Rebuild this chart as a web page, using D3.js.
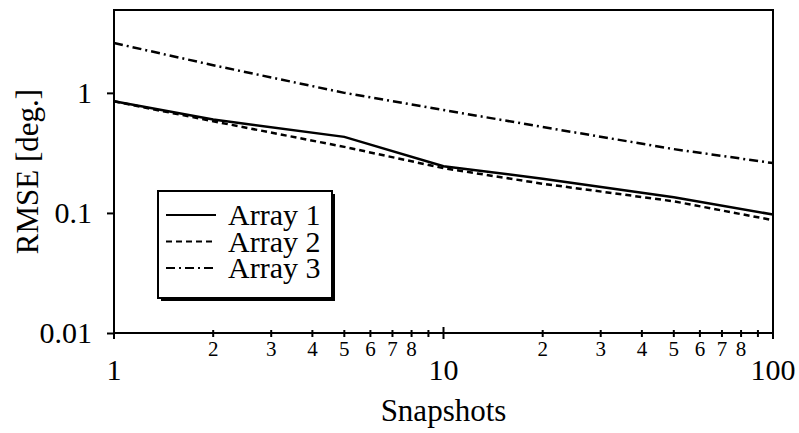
<!DOCTYPE html>
<html>
<head>
<meta charset="utf-8">
<script src="https://cdnjs.cloudflare.com/ajax/libs/d3/7.8.5/d3.min.js"></script>
<style>
  body { margin: 0; background: #fff; }
</style>
</head>
<body>
<div class="canvas"></div>
<script>
// data
const snapshots = [1, 2, 5, 10, 20, 50, 100];
const array1 = [0.85, 0.6, 0.43, 0.245, 0.193, 0.135, 0.097];
const array2 = [0.85, 0.58, 0.355, 0.236, 0.175, 0.125, 0.087];
const array3 = [2.6, 1.7, 1.0, 0.72, 0.52, 0.34, 0.26];
const seriesNames = ['Array 1', 'Array 2', 'Array 3'];

const xMajor = [1, 10, 100];
const xMajorLabels = ['1', '10', '100'];
const xMinor = [2, 3, 4, 5, 6, 7, 8, 9, 20, 30, 40, 50, 60, 70, 80, 90];
const xMinorLabels = ['2', '3', '4', '5', '6', '7', '8', '', '2', '3', '4', '5', '6', '7', '8', ''];
const yTicks = [0.01, 0.1, 1];
const yTickLabels = ['0.01', '0.1', '1'];

const FONT = '"Liberation Serif"';

const width = 799, height = 433;
const margin = {top: 10, right: 26, bottom: 100, left: 114};
const graphWidth = width - margin.left - margin.right;
const graphHeight = height - margin.top - margin.bottom;

const svg = d3.select('.canvas')
    .append('svg')
        .attr('width', width)
        .attr('height', height)
        .style('font-family', FONT);

const graph = svg.append('g')
    .attr('transform', `translate(${margin.left}, ${margin.top})`);

const x = d3.scaleLog().domain([1, 100]).range([0, graphWidth]);
const y = d3.scaleLog().domain([0.01, 4.9]).range([graphHeight, 0]);

// frame
graph.append('rect')
    .attr('width', graphWidth)
    .attr('height', graphHeight)
    .attr('fill', 'none')
    .attr('stroke', 'black')
    .attr('stroke-width', 2);

// x axis ticks (crossing the axis)
const xAxisGroup = graph.append('g')
    .attr('transform', `translate(0, ${graphHeight})`);

xAxisGroup.selectAll('line.major')
    .data(xMajor)
    .enter().append('line')
        .attr('class', 'major')
        .attr('x1', d => x(d)).attr('x2', d => x(d))
        .attr('y1', -6).attr('y2', 6)
        .attr('stroke', 'black').attr('stroke-width', 2);

xAxisGroup.selectAll('line.minor')
    .data(xMinor)
    .enter().append('line')
        .attr('class', 'minor')
        .attr('x1', d => x(d)).attr('x2', d => x(d))
        .attr('y1', -3).attr('y2', 4)
        .attr('stroke', 'black').attr('stroke-width', 2);

xAxisGroup.selectAll('text.major')
    .data(xMajor)
    .enter().append('text')
        .attr('class', 'major')
        .attr('x', d => x(d))
        .attr('y', 47)
        .attr('text-anchor', 'middle')
        .style('font-family', FONT)
        .style('font-size', '30px')
        .text((d, i) => xMajorLabels[i]);

xAxisGroup.selectAll('text.minor')
    .data(xMinor)
    .enter().append('text')
        .attr('class', 'minor')
        .attr('x', d => x(d))
        .attr('y', 23)
        .attr('text-anchor', 'middle')
        .style('font-family', FONT)
        .style('font-size', '21px')
        .text((d, i) => xMinorLabels[i]);

// y axis ticks (outward)
const yAxis = d3.axisLeft(y)
    .tickValues(yTicks)
    .tickSize(7)
    .tickPadding(15)
    .tickFormat((d, i) => yTickLabels[i]);

const yAxisGroup = graph.append('g').call(yAxis)
    .attr('font-family', null)
    .attr('font-size', null);
yAxisGroup.select('.domain').remove();
yAxisGroup.selectAll('line').attr('stroke-width', 2);
yAxisGroup.selectAll('text')
    .attr('fill', 'black')
    .style('font-family', FONT)
    .style('font-size', '30px');

// axis titles
svg.append('text')
    .attr('x', margin.left + x(10))
    .attr('y', 421)
    .attr('text-anchor', 'middle')
    .style('font-family', FONT)
    .style('font-size', '31px')
    .text('Snapshots');

svg.append('text')
    .attr('transform', `translate(38, ${margin.top + graphHeight / 2}) rotate(-90)`)
    .attr('text-anchor', 'middle')
    .style('font-family', FONT)
    .style('font-size', '31px')
    .text('RMSE [deg.]');

// lines
const dashes = [null, '6,4', '9,4,2,4'];
const seriesData = [array1, array2, array3];

const line = d3.line()
    .x((d, i) => x(snapshots[i]))
    .y(d => y(d));

graph.selectAll('path.series')
    .data(seriesData)
    .enter().append('path')
        .attr('class', 'series')
        .attr('d', d => line(d))
        .attr('fill', 'none')
        .attr('stroke', 'black')
        .attr('stroke-width', 2.5)
        .attr('stroke-dasharray', (d, i) => dashes[i]);

// legend
const legend = svg.append('g')
    .attr('transform', 'translate(158, 191)');

legend.append('rect')
    .attr('x', 3).attr('y', 3)
    .attr('width', 174).attr('height', 107)
    .attr('fill', 'black');

legend.append('rect')
    .attr('width', 174).attr('height', 107)
    .attr('fill', 'white')
    .attr('stroke', 'black')
    .attr('stroke-width', 2);

seriesNames.forEach((name, i) => {
    const cy = 24 + i * 26.5;
    legend.append('line')
        .attr('x1', 8).attr('x2', 58)
        .attr('y1', cy).attr('y2', cy)
        .attr('stroke', 'black')
        .attr('stroke-width', 2)
        .attr('stroke-dasharray', dashes[i]);
    legend.append('text')
        .attr('x', 70)
        .attr('y', cy + 10)
        .style('font-family', FONT)
        .style('font-size', '30px')
        .text(name);
});
</script>
</body>
</html>
